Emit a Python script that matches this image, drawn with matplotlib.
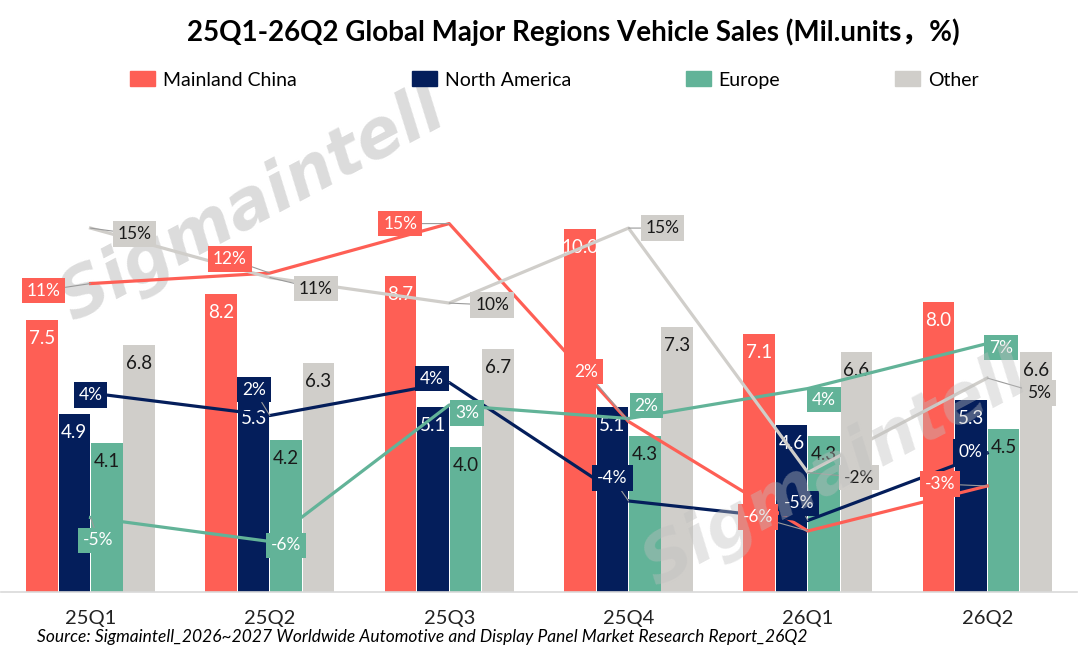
import numpy as np
import matplotlib
matplotlib.use('Agg')
import matplotlib.pyplot as plt
from matplotlib.patches import Patch

plt.rcParams['font.family'] = ['Lato', 'Noto Sans CJK SC', 'DejaVu Sans']

quarters = ['25Q1', '25Q2', '25Q3', '25Q4', '26Q1', '26Q2']
regions = ['Mainland China', 'North America', 'Europe', 'Other']

# sales, Mil. units
china = [7.5, 8.2, 8.7, 10.0, 7.1, 8.0]
north_america = [4.9, 5.3, 5.1, 5.1, 4.6, 5.3]
europe = [4.1, 4.2, 4.0, 4.3, 4.3, 4.5]
other = [6.8, 6.3, 6.7, 7.3, 6.6, 6.6]

# growth, %
china_g = [10.9, 11.6, 14.9, 1.7, -5.6, -2.6]
north_america_g = [3.6, 2.1, 4.3, -3.6, -4.9, -0.4]
europe_g = [-4.7, -6.3, 2.8, 1.9, 3.9, 6.9]
other_g = [14.6, 11.3, 9.6, 14.6, -1.7, 4.6]

colors = ['#FE5F55', '#041E5B', '#62B398', '#D0CECA']
bar_text = ['white', 'white', '#1a1a1a', '#1a1a1a']
line_text = ['white', 'white', 'white', '#1a1a1a']

# label offsets in pixels (dx, dy) for the growth labels
offsets = [
    [(-47, -7), (-40, 14), (-49, 0), (-42, 50), (-50, 14), (-47, 2)],
    [(0, -2), (-16, 26), (-17, 4), (-16, 23), (-9, 17), (-17, 1)],
    [(8, -23), (16, -4), (18, -8), (18, 13), (16, -11), (14, -4)],
    [(44, -6), (46, -11), (43, -2), (34, 0), (51, -5), (52, -15)],
]

sales = [china, north_america, europe, other]
growth = [china_g, north_america_g, europe_g, other_g]

fig = plt.figure(figsize=(10.8, 6.51), dpi=100)
ax = fig.add_axes([0.0008, 0.0906, 0.9963, 0.7249])
ax.patch.set_visible(False)
ax2 = ax.twinx()

x = np.arange(len(quarters))
w = 0.176
for k in range(4):
    pos = x + (k - 1.5) * 0.181
    ax.bar(pos, sales[k], width=w, color=colors[k], zorder=2)
    for px, v in zip(pos, sales[k]):
        ax.annotate(f'{v:.1f}', xy=(px, v), xytext=(0, -10), textcoords='offset pixels',
                    ha='center', va='top', fontsize=13.5, color=bar_text[k], zorder=3)

ax.set_xlim(-0.5, 5.5)
ax.set_ylim(0, 13)
ax.set_xticks(x)
ax.set_xticklabels(quarters, fontsize=14.5, color='#222222')
ax.tick_params(axis='x', length=0, pad=13)
ax.set_yticks([])
for s in ['top', 'left', 'right']:
    ax.spines[s].set_visible(False)
ax.spines['bottom'].set_color('#d9d9d9')
ax.spines['bottom'].set_linewidth(1.2)

for k in range(4):
    ax2.plot(x, growth[k], color=colors[k], lw=2.3, zorder=3)
    for i, v in enumerate(growth[k]):
        dx, dy = offsets[k][i]
        ax2.annotate(f'{round(v)}%', xy=(i, v), xytext=(dx, dy), textcoords='offset pixels',
                     ha='center', va='center', fontsize=12.5, color=line_text[k], zorder=5,
                     bbox=dict(boxstyle='square,pad=0.28', fc=colors[k], ec='none'),
                     arrowprops=dict(arrowstyle='-', color='#9a9a9a', lw=0.8,
                                     shrinkA=0, shrinkB=0))
ax2.set_ylim(-9.67, 21.8)
ax2.set_yticks([])
for s in ['top', 'left', 'right', 'bottom']:
    ax2.spines[s].set_visible(False)

# watermarks
wm_font = ['Liberation Sans Narrow', 'DejaVu Sans']
ax.text(252 / 1080, 1 - 205 / 651, 'Sigmaintell', transform=fig.transFigure,
        fontsize=48, fontweight='bold', style='italic', family=wm_font,
        color='#dcdcdc', rotation=28, ha='center', va='center', zorder=0.5)
ax2.text(835 / 1080, 1 - 470 / 651, 'Sigmaintell', transform=fig.transFigure,
         fontsize=48, fontweight='bold', style='italic', family=wm_font,
         color='#bfbfbf', alpha=0.4, rotation=28, ha='center', va='center', zorder=10)

fig.text(573 / 1080, 1 - 32 / 651,
         '25Q1-26Q2 Global Major Regions Vehicle Sales (Mil.units，%)',
         ha='center', va='center', fontsize=20, fontweight='bold', color='black')

handles = [Patch(color=c) for c in colors]
fig.legend(handles, regions, loc='center left', bbox_to_anchor=(130 / 1080, 1 - 80 / 651),
           ncol=4, frameon=False, fontsize=14, handlelength=1.3, handleheight=0.8,
           handletextpad=0.4, columnspacing=5.9, borderpad=0, borderaxespad=0)

fig.text(37 / 1080, 1 - 637 / 651,
         'Source: Sigmaintell_2026~2027 Worldwide Automotive and Display Panel Market Research Report_26Q2',
         ha='left', va='center', fontsize=12.5, style='italic', color='black')

fig.savefig('out.png', dpi=100)
